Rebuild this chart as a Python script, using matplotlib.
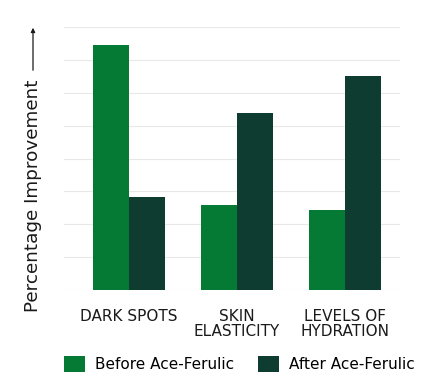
import matplotlib.pyplot as plt
import numpy as np

categories = ["DARK SPOTS", "SKIN\nELASTICITY", "LEVELS OF\nHYDRATION"]
before = [7.45, 2.58, 2.43]
after = [2.83, 5.38, 6.5]
series = ["Before Ace-Ferulic", "After Ace-Ferulic"]

c_before = "#047a35"
c_after = "#0f3c31"

plt.rcParams['font.family'] = ['DejaVu Sans']

fig = plt.figure(figsize=(4.3, 3.9), dpi=100)
ax = fig.add_axes([64/430, 1-290/390, (400-64)/430, (290-27)/390])

x = np.arange(len(categories))
w = 0.333
ax.bar(x - w/2, before, w, color=c_before, label=series[0], zorder=2)
ax.bar(x + w/2, after, w, color=c_after, label=series[1], zorder=2)

ax.set_xlim(-0.6, 2.51)
ax.set_ylim(0, 8)
ax.set_yticks(np.arange(0, 9))
ax.yaxis.grid(True, color="#e8e8e8", linewidth=0.8, zorder=0)
ax.tick_params(left=False, bottom=False, labelleft=False)
for s in ax.spines.values():
    s.set_visible(False)
ax.set_xticks(x)
ax.set_xticklabels(categories, fontsize=11, color="#1a1a1a", linespacing=1.05)
ax.tick_params(axis='x', pad=10)

fig.text(33/430, 1-196/390, "Percentage Improvement", rotation=90,
         ha='center', va='center', fontsize=13.2, color="#1a1a1a")
fig.add_artist(plt.matplotlib.patches.FancyArrowPatch(
    (33/430, 1-73/390), (33/430, 1-25/390), transform=fig.transFigure,
    arrowstyle='-|>', mutation_scale=6, linewidth=0.9, color="#1a1a1a"))

leg = fig.legend(loc='center left', bbox_to_anchor=(64/430, 1-364/390), ncol=2,
                 frameon=False, fontsize=11, handlelength=1.35, handleheight=1.2,
                 columnspacing=1.6, handletextpad=0.65, borderpad=0,
                 borderaxespad=0)

fig.savefig("out.png", dpi=100)
